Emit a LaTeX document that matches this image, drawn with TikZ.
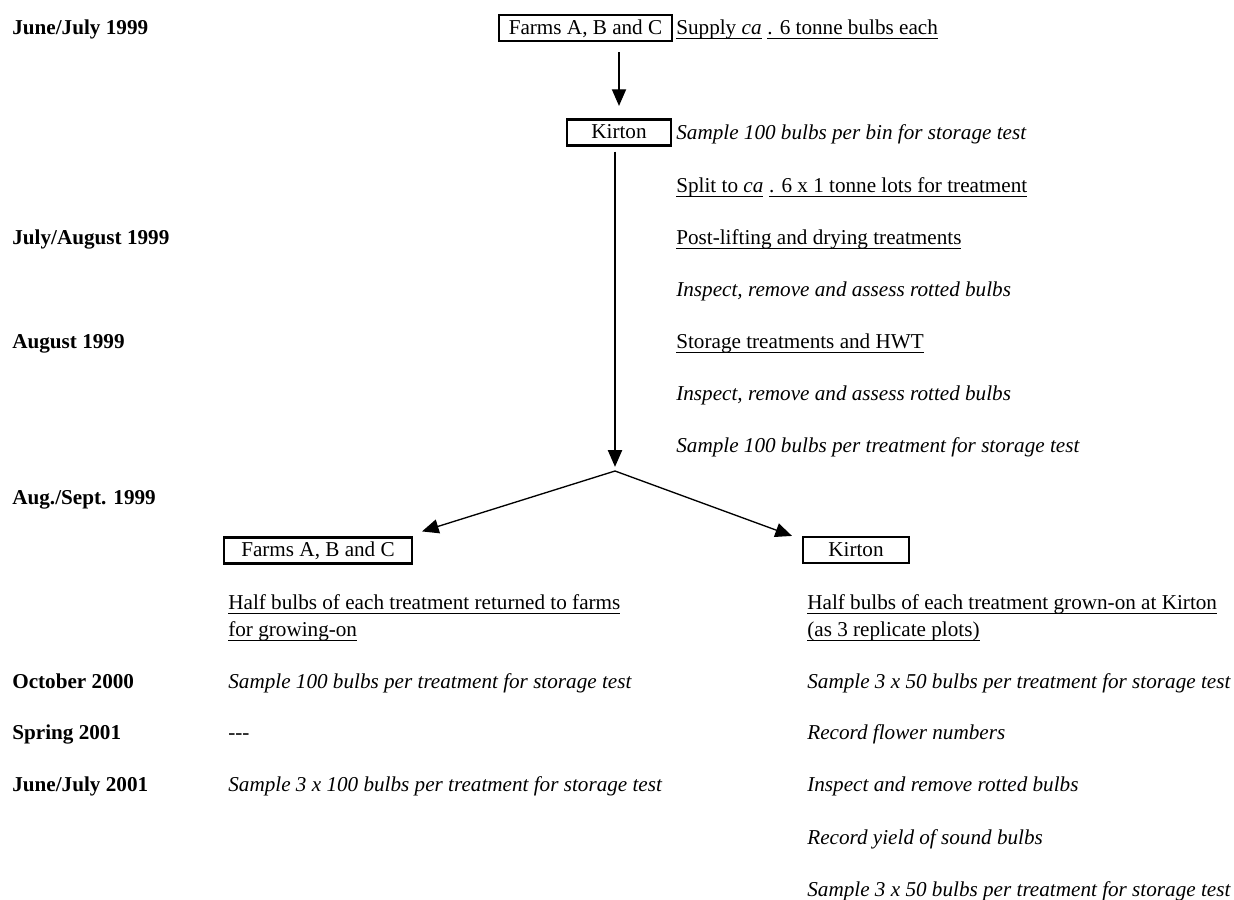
\documentclass[tikz,border=0pt]{standalone}
\usepackage{fontspec}
\setmainfont{Liberation Serif}
\usetikzlibrary{arrows.meta}
\newcommand{\undl}[1]{\setbox0\hbox{#1}\rlap{\rule[-2.6pt]{\wd0}{0.8pt}}\box0}
\tikzset{
 date/.style={anchor=west, inner sep=0pt, text height=10.8pt, text depth=2.6pt, font=\fontsize{12.7}{15}\selectfont\bfseries},
 note/.style={anchor=west, inner sep=0pt, text height=10.8pt, text depth=2.6pt, font=\fontsize{12.7}{15}\selectfont},
 task/.style={note, font=\fontsize{12.7}{15}\selectfont\itshape},
 box/.style={draw, line width=1.4pt, inner sep=0pt, minimum height=15.5pt, text height=10pt, text depth=2.5pt, font=\fontsize{12.7}{15}\selectfont},
 arr/.style={line width=0.8pt, -{Triangle[length=10pt,width=8.5pt]}}
}
\begin{document}
\begin{tikzpicture}[x=0.6pt,y=-0.6pt]
\useasboundingbox (0,0) rectangle (1234,899);
 \node[date] (d1) at (12,28) {June/July 1999};
 \node[date] (d2) at (12,238) {July/August 1999};
 \node[date] (d3) at (12,342) {August 1999};
 \node[date] (d4) at (12,498) {Aug./Sept. 1999};
 \node[date] (d5) at (12,682) {October 2000};
 \node[date] (d6) at (12,733) {Spring 2001};
 \node[date] (d7) at (12,785) {June/July 2001};

 \node[box, minimum width=103.6pt] (farmsA) at (585.5,28) {Farms A, B and C};
 \node[box, minimum width=62.2pt] (kirtonA) at (619,132.5) {Kirton};
 \node[box, minimum width=112.6pt] (farmsB) at (318,550.5) {Farms A, B and C};
 \node[box, minimum width=63.4pt] (kirtonB) at (856,550) {Kirton};

 \node[note] (supply) at (676,28) {\undl{Supply \textit{ca}}\hspace{3.5pt}\undl{. 6 tonne bulbs each}};
 \node[task] (binTest) at (676,133) {Sample 100 bulbs per bin for storage test};
 \node[note] (split1) at (676,186) {\undl{Split to \textit{ca}}\hspace{3.5pt}\undl{. 6 x 1 tonne lots for treatment}};
 \node[note] (postLift) at (676,238) {\undl{Post-lifting and drying treatments}};
 \node[task] (inspect1) at (676,290) {Inspect, remove and assess rotted bulbs};
 \node[note] (storage) at (676,342) {\undl{Storage treatments and HWT}};
 \node[task] (inspect2) at (676,394) {Inspect, remove and assess rotted bulbs};
 \node[task] (trtTest) at (676,446) {Sample 100 bulbs per treatment for storage test};

 \node[note] (farmsHalf) at (228,603) {\undl{Half bulbs of each treatment returned to farms}};
 \node[note] (farmsHalf2) at (228,630) {\undl{for growing-on}};
 \node[task] (farmsOct) at (228,682) {Sample 100 bulbs per treatment for storage test};
 \node[note] (farmsSpr) at (228,733) {{-}{-}{-}};
 \node[task] (farmsJun) at (228,785) {Sample 3 x 100 bulbs per treatment for storage test};

 \node[note] (kirtonHalf) at (807,603) {\undl{Half bulbs of each treatment grown-on at Kirton}};
 \node[note] (kirtonHalf2) at (807,630) {\undl{(as 3 replicate plots)}};
 \node[task] (kirtonOct) at (807,682) {Sample 3 x 50 bulbs per treatment for storage test};
 \node[task] (kirtonSpr) at (807,733) {Record flower numbers};
 \node[task] (kirtonJun) at (807,785) {Inspect and remove rotted bulbs};
 \node[task] (kirtonYld) at (807,838) {Record yield of sound bulbs};
 \node[task] (kirtonEnd) at (807,890) {Sample 3 x 50 bulbs per treatment for storage test};

 \coordinate (split) at (615,471);
\draw[arr, shorten <=6pt, shorten >=7.5pt] (kirtonA.north |- farmsA.south) -- (kirtonA.north);
\draw[arr, shorten <=3pt, shorten >=2.5pt] (kirtonA.south -| split) -- (split);
\draw[arr] (split) -- ([shift={(9,-5)}]farmsB.north east);
\draw[arr] (split) -- ([shift={(-10,0)}]kirtonB.north west);
\end{tikzpicture}
\end{document}
